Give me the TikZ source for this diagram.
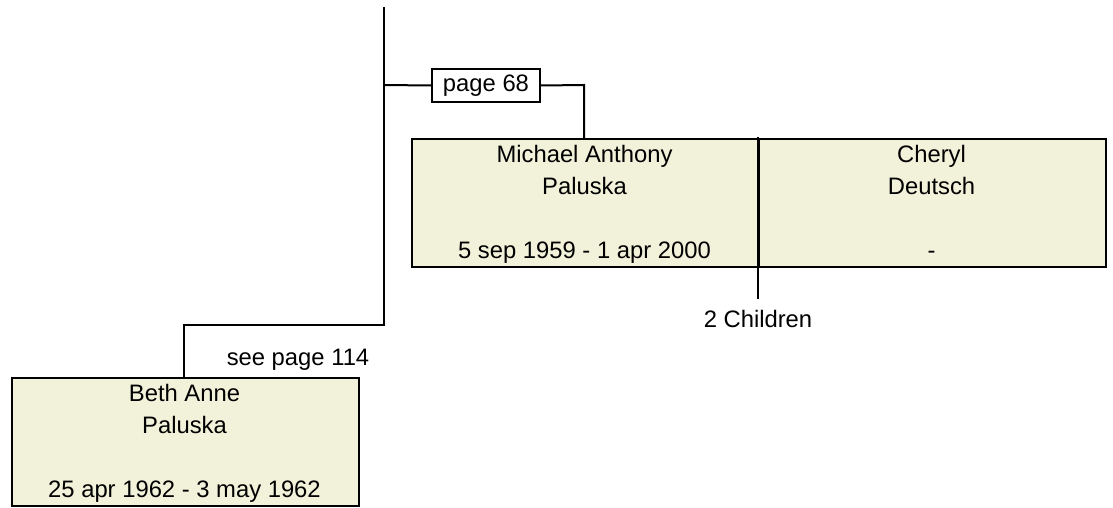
\documentclass[tikz,border=0pt]{standalone}
\usepackage{fontspec}
\setmainfont{Liberation Sans}
\definecolor{boxfill}{RGB}{242,242,218}
\begin{document}
\begin{tikzpicture}[x=1pt,y=-1pt,
  line width=2pt,
  famcell/.style={draw=black, fill=boxfill, rectangle, inner sep=0pt, minimum width=347pt, minimum height=128pt, anchor=north west},
  txt/.style={inner sep=0pt, anchor=base, font=\fontsize{23.8}{28}\selectfont},
  pagebox/.style={draw=black, fill=white, rectangle, inner sep=0pt, minimum width=108pt, minimum height=33pt, font=\fontsize{23.8}{28}\selectfont}
]
\useasboundingbox (0,0) rectangle (1113,508);
% boxes
\node[famcell] (mich) at (411,138) {};
\node[famcell] (cher) at (758,138) {};
\node[famcell] (beth) at (11,377) {};
% trunk
\coordinate (top) at (384,7);
\coordinate (j1) at (384,85);
\coordinate (j2) at (384,325);
\coordinate (j3) at (184,325);
\coordinate (j4) at (584,85);
\coordinate (mtop) at (584,138);
\coordinate (btop) at (184,377);
\coordinate (dtop) at (758,137);
\coordinate (dbot) at (758,299);
\node[pagebox] (p68) at (486,85.5) {page 68};
\draw (top) -- (j2) -- (j3) -- (btop);
\draw (j1) -- (p68.west);
\draw (p68.east) -- (j4) -- (mtop);
\draw (dtop) -- (dbot);
% texts
\node[txt] (m1) at (584.5,162) {Michael Anthony};
\node[txt] (m2) at (584.5,194) {Paluska};
\node[txt] (m3) at (584.5,258) {5 sep 1959 - 1 apr 2000};
\node[txt] (c1) at (931.5,162) {Cheryl};
\node[txt] (c2) at (931.5,194) {Deutsch};
\node[txt] (c3) at (931.5,258) {-};
\node[txt] (b1) at (184.5,401) {Beth Anne};
\node[txt] (b2) at (184.5,433) {Paluska};
\node[txt] (b3) at (184.5,497) {25 apr 1962 - 3 may 1962};
\node[txt] (kids) at (758,327) {2 Children};
\node[txt] (see) at (298,365) {see page 114};
\end{tikzpicture}
\end{document}
